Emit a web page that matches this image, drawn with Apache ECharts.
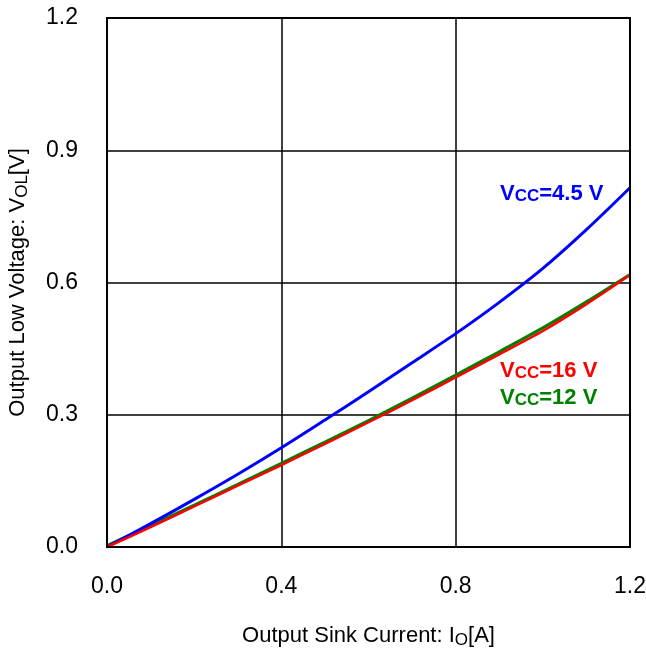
<!DOCTYPE html>
<html><head><meta charset="utf-8">
<script src="https://cdn.jsdelivr.net/npm/echarts@6/dist/echarts.min.js"></script>
<style>html,body{margin:0;padding:0;background:#fff}#c{width:646px;height:651px}</style>
</head><body><div id="c"></div>
<script>
const xVals = [0, 0.1, 0.2, 0.3, 0.4, 0.5, 0.6, 0.7, 0.8, 0.9, 1.0, 1.1, 1.2];
const vcc45 = [0, 0.053, 0.108, 0.165, 0.225, 0.288, 0.352, 0.418, 0.484, 0.555, 0.632, 0.72, 0.815];
const vcc16 = [0, 0.045, 0.092, 0.139, 0.186, 0.234, 0.283, 0.333, 0.385, 0.437, 0.49, 0.551, 0.617];
const vcc12 = [0.003, 0.049, 0.095, 0.142, 0.19, 0.238, 0.287, 0.338, 0.39, 0.443, 0.497, 0.556, 0.618];
const seriesNames = ['Vcc=4.5 V', 'Vcc=16 V', 'Vcc=12 V'];
const colors = ['#0000ff', '#ff0000', '#008000'];
const xTicks = [0, 0.4, 0.8, 1.2];
const yTicks = [0, 0.3, 0.6, 0.9, 1.2];

const chart = echarts.init(document.getElementById('c'), null, {renderer: 'canvas'});
const font = 'Liberation Sans, Arial, sans-serif';
const pair = (arr) => xVals.map((x, i) => [x, arr[i]]);
const sub = {fontSize: 17, fontFamily: font, color: '#000', padding: [9, 0, 0, 0]};
const lbl = (c) => ({
  a: {fontSize: 22, fontWeight: 'bold', fontFamily: font, fill: c},
  s: {fontSize: 17, fontWeight: 'bold', fontFamily: font, fill: c, padding: [5, 0, 0, 0]}
});
chart.setOption({
  animation: false,
  grid: {left: 107, right: 16, top: 18, bottom: 104, containLabel: false, outerBoundsMode: 'none'},
  xAxis: {
    type: 'value', min: 0, max: 1.2, interval: 0.4,
    axisLine: {show: true, lineStyle: {color: '#000', width: 2}},
    axisTick: {show: false},
    splitLine: {show: true, lineStyle: {color: '#000', width: 1.5}},
    axisLabel: {color: '#000', fontSize: 23, fontFamily: font, margin: 28,
      formatter: v => v.toFixed(1)},
    name: '{a|Output Sink Current: I}{s|O}{a|[A]}',
    nameLocation: 'middle', nameGap: 76,
    nameTextStyle: {rich: {a: {fontSize: 22, fontFamily: font, color: '#000'}, s: sub}}
  },
  yAxis: {
    type: 'value', min: 0, max: 1.2, interval: 0.3,
    axisLine: {show: true, lineStyle: {color: '#000', width: 2}},
    axisTick: {show: false},
    splitLine: {show: true, lineStyle: {color: '#000', width: 1.5}},
    axisLabel: {color: '#000', fontSize: 23, fontFamily: font, margin: 29,
      formatter: v => v.toFixed(1)},
    name: '{a|Output Low Voltage: V}{s|OL}{a|[V]}',
    nameLocation: 'middle', nameGap: 76,
    nameTextStyle: {rich: {a: {fontSize: 22, fontFamily: font, color: '#000'}, s: sub}}
  },
  graphic: [
    {type: 'rect', shape: {x: 107, y: 18, width: 523, height: 529}, style: {fill: 'none', stroke: '#000', lineWidth: 2}, z: 100, silent: true},
    {type: 'text', left: 500, top: 183, z: 110, style: {text: '{a|V}{s|CC}{a|=4.5 V}', rich: lbl(colors[0])}},
    {type: 'text', left: 500, top: 360, z: 110, style: {text: '{a|V}{s|CC}{a|=16 V}', rich: lbl(colors[1])}},
    {type: 'text', left: 500, top: 387, z: 110, style: {text: '{a|V}{s|CC}{a|=12 V}', rich: lbl(colors[2])}}
  ],
  series: [
    {name: seriesNames[0], type: 'line', data: pair(vcc45), smooth: 0.3, showSymbol: false, lineStyle: {color: colors[0], width: 3}, clip: false, z: 5},
    {name: seriesNames[2], type: 'line', data: pair(vcc12), smooth: 0.3, showSymbol: false, lineStyle: {color: colors[2], width: 3}, clip: false, z: 4},
    {name: seriesNames[1], type: 'line', data: pair(vcc16), smooth: 0.3, showSymbol: false, lineStyle: {color: colors[1], width: 2.5}, clip: false, z: 6}
  ]
});
</script></body></html>
